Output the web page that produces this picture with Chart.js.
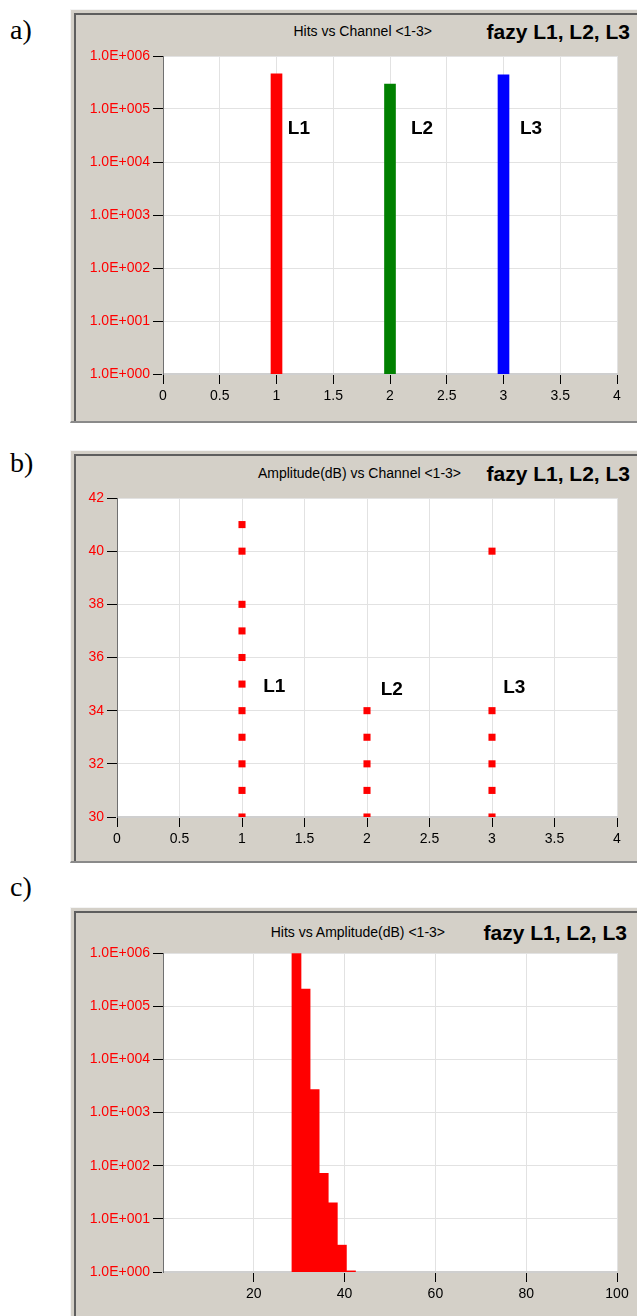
<!DOCTYPE html>
<html>
<head>
<meta charset="utf-8">
<script src="https://cdn.jsdelivr.net/npm/chart.js@4/dist/chart.umd.min.js"></script>
<style>
  html, body { margin:0; padding:0; background:#fff; width:637px; height:1316px; overflow:hidden; }
  .frame { position:absolute; left:70px; width:600px; background:#d4d0c8;
    border-top:1px solid #f4f4f4; border-left:1px solid #f4f4f4; border-bottom:2px solid #8a8a8a;
    box-shadow: inset 3px 3px 0 #d4d0c8, inset 5px 5px 0 #5e5e5e; box-sizing:border-box; }
  canvas { position:absolute; left:70px; }
  .tag { position:absolute; left:10px; font:28px "Liberation Serif", "Times New Roman", serif; color:#000; }
  .ttl { position:absolute; font:14px "Liberation Sans", Arial, sans-serif; color:#000; white-space:nowrap; }
  .big { position:absolute; font:bold 21px "Liberation Sans", Arial, sans-serif; color:#000; white-space:nowrap; }
</style>
</head>
<body>
<div class="frame" style="top:9px;height:414px"></div>
<div class="frame" style="top:450px;height:413px"></div>
<div class="frame" style="top:907px;height:420px"></div>

<div class="tag" style="top:14px">a)</div>
<div class="tag" style="top:447px">b)</div>
<div class="tag" style="top:871px">c)</div>

<div class="ttl" style="right:205px;top:23px">Hits vs Channel &lt;1-3&gt;</div>
<div class="big" style="right:7px;top:20px">fazy L1, L2, L3</div>
<div class="ttl" style="right:176px;top:465px">Amplitude(dB) vs Channel &lt;1-3&gt;</div>
<div class="big" style="right:7px;top:462px">fazy L1, L2, L3</div>
<div class="ttl" style="right:192px;top:924px">Hits vs Amplitude(dB) &lt;1-3&gt;</div>
<div class="big" style="right:10px;top:921px">fazy L1, L2, L3</div>

<canvas id="chartA" width="567" height="414" style="top:9px"></canvas>
<canvas id="chartB" width="567" height="413" style="top:450px"></canvas>
<canvas id="chartC" width="567" height="409" style="top:907px"></canvas>

<script>
// dane
const phaseNames = ['L1', 'L2', 'L3'];
const channels = [1, 2, 3];
const hitsPerChannel = [4.6e5, 2.95e5, 4.4e5];
const channelColors = ['#ff0000', '#008000', '#0000ff'];
const hitTicks = [1, 10, 100, 1e3, 1e4, 1e5, 1e6];
const channelTicks = [0, 0.5, 1, 1.5, 2, 2.5, 3, 3.5, 4];

const ampL1 = [41, 40, 38, 37, 36, 35, 34, 33, 32, 31, 30];
const ampL2 = [34, 33, 32, 31, 30];
const ampL3 = [40, 34, 33, 32, 31, 30];
const ampTicks = [30, 32, 34, 36, 38, 40, 42];

const ampBins = [29.4, 31.4, 33.4, 35.4, 37.4, 39.4, 41.4];
const hitsPerBin = [9.8e5, 2.1e5, 2.7e3, 72, 20, 3.2, 1.05];
const ampAxisTicks = [20, 40, 60, 80, 100];

const FONT = '"Liberation Sans", Arial, sans-serif';

// bialy obszar wykresu + etykiety L1..L3
const plotBg = {
  id: 'plotBg',
  beforeDraw(chart) {
    const a = chart.chartArea, ctx = chart.ctx;
    ctx.save();
    ctx.fillStyle = '#fff';
    ctx.fillRect(a.left, a.top, a.right - a.left, a.bottom - a.top);
    ctx.strokeStyle = '#b0b0b0';
    ctx.lineWidth = 1;
    ctx.beginPath();
    ctx.moveTo(a.left, a.top + 0.5);
    ctx.lineTo(a.right, a.top + 0.5);
    ctx.stroke();
    ctx.restore();
  },
  afterDatasetsDraw(chart, args, opts) {
    if (!opts.items) return;
    const ctx = chart.ctx;
    ctx.save();
    ctx.font = 'bold 19px ' + FONT;
    ctx.fillStyle = '#000';
    ctx.textBaseline = 'middle';
    opts.items.forEach(it => {
      ctx.fillText(it.text, chart.scales.x.getPixelForValue(it.x), chart.scales.y.getPixelForValue(it.y));
    });
    ctx.restore();
  }
};
Chart.register(plotBg);

const sci = v => '1.0E+' + String(Math.round(Math.log10(v))).padStart(3, '0');

function yLog(width) {
  return {
    type: 'logarithmic', min: 1, max: 1e6,
    afterBuildTicks: s => { s.ticks = hitTicks.map(v => ({ value: v })); },
    afterFit: s => { s.width = width; },
    ticks: { color: '#ff0000', font: { family: FONT, size: 14 }, padding: 3, callback: v => sci(v) },
    grid: { color: '#e2e2e2', tickColor: '#000', tickLength: 10 },
    border: { color: '#707070', width: 1 }
  };
}
function xLin(min, max, ticksArr, height) {
  return {
    type: 'linear', min: min, max: max, offset: false,
    afterBuildTicks: s => { s.ticks = ticksArr.map(v => ({ value: v })); },
    afterFit: s => { s.height = height; },
    ticks: { color: '#000', font: { family: FONT, size: 14 }, padding: 4, maxRotation: 0, autoSkip: false,
      callback: v => String(v) },
    grid: { color: '#e2e2e2', tickColor: '#000', tickLength: 10, offset: false },
    border: { color: '#cfcfcf', width: 2 }
  };
}

// a) Hits vs Channel
new Chart(document.getElementById('chartA'), {
  type: 'bar',
  data: {
    datasets: [{
      data: channels.map((c, i) => ({ x: c, y: hitsPerChannel[i] })),
      backgroundColor: channelColors,
      borderWidth: 0,
      barThickness: 11
    }]
  },
  options: {
    responsive: false, animation: false,
    layout: { padding: { top: 47, right: 20, left: 0, bottom: 0 } },
    plugins: {
      legend: { display: false }, tooltip: { enabled: false },
      plotBg: { items: [
        { text: phaseNames[0], x: 1.1, y: 4.2e4 },
        { text: phaseNames[1], x: 2.185, y: 4.2e4 },
        { text: phaseNames[2], x: 3.145, y: 4.2e4 }
      ] }
    },
    scales: { x: xLin(0, 4, channelTicks, 49), y: yLog(93) }
  }
});

// b) Amplitude vs Channel
const ampSets = [ampL1, ampL2, ampL3].map((arr, i) => ({
  data: arr.map(v => ({ x: channels[i], y: v })),
  backgroundColor: '#ff0000',
  pointStyle: 'rect', pointRadius: 5, borderWidth: 0,
  showLine: false, clip: 0
}));
new Chart(document.getElementById('chartB'), {
  type: 'scatter',
  data: { datasets: ampSets },
  options: {
    responsive: false, animation: false,
    layout: { padding: { top: 48, right: 20, left: 0, bottom: 0 } },
    plugins: {
      legend: { display: false }, tooltip: { enabled: false },
      plotBg: { items: [
        { text: phaseNames[0], x: 1.17, y: 34.9 },
        { text: phaseNames[1], x: 2.11, y: 34.8 },
        { text: phaseNames[2], x: 3.09, y: 34.85 }
      ] }
    },
    scales: {
      x: xLin(0, 4, channelTicks, 46),
      y: {
        type: 'linear', min: 30, max: 42,
        afterBuildTicks: s => { s.ticks = ampTicks.map(v => ({ value: v })); },
        afterFit: s => { s.width = 47; },
        ticks: { color: '#ff0000', font: { family: FONT, size: 14 }, padding: 3 },
        grid: { color: '#e2e2e2', tickColor: '#000', tickLength: 10 },
        border: { color: '#707070', width: 1 }
      }
    }
  }
});

// c) Hits vs Amplitude
new Chart(document.getElementById('chartC'), {
  type: 'bar',
  data: {
    datasets: [{
      data: ampBins.map((b, i) => ({ x: b, y: hitsPerBin[i] })),
      backgroundColor: '#ff0000',
      borderWidth: 0,
      barPercentage: 1, categoryPercentage: 1
    }]
  },
  options: {
    responsive: false, animation: false,
    layout: { padding: { top: 46, right: 20, left: 0, bottom: 0 } },
    plugins: { legend: { display: false }, tooltip: { enabled: false } },
    scales: { x: xLin(0, 100, ampAxisTicks, 44), y: yLog(93) }
  }
});
</script>
</body>
</html>
